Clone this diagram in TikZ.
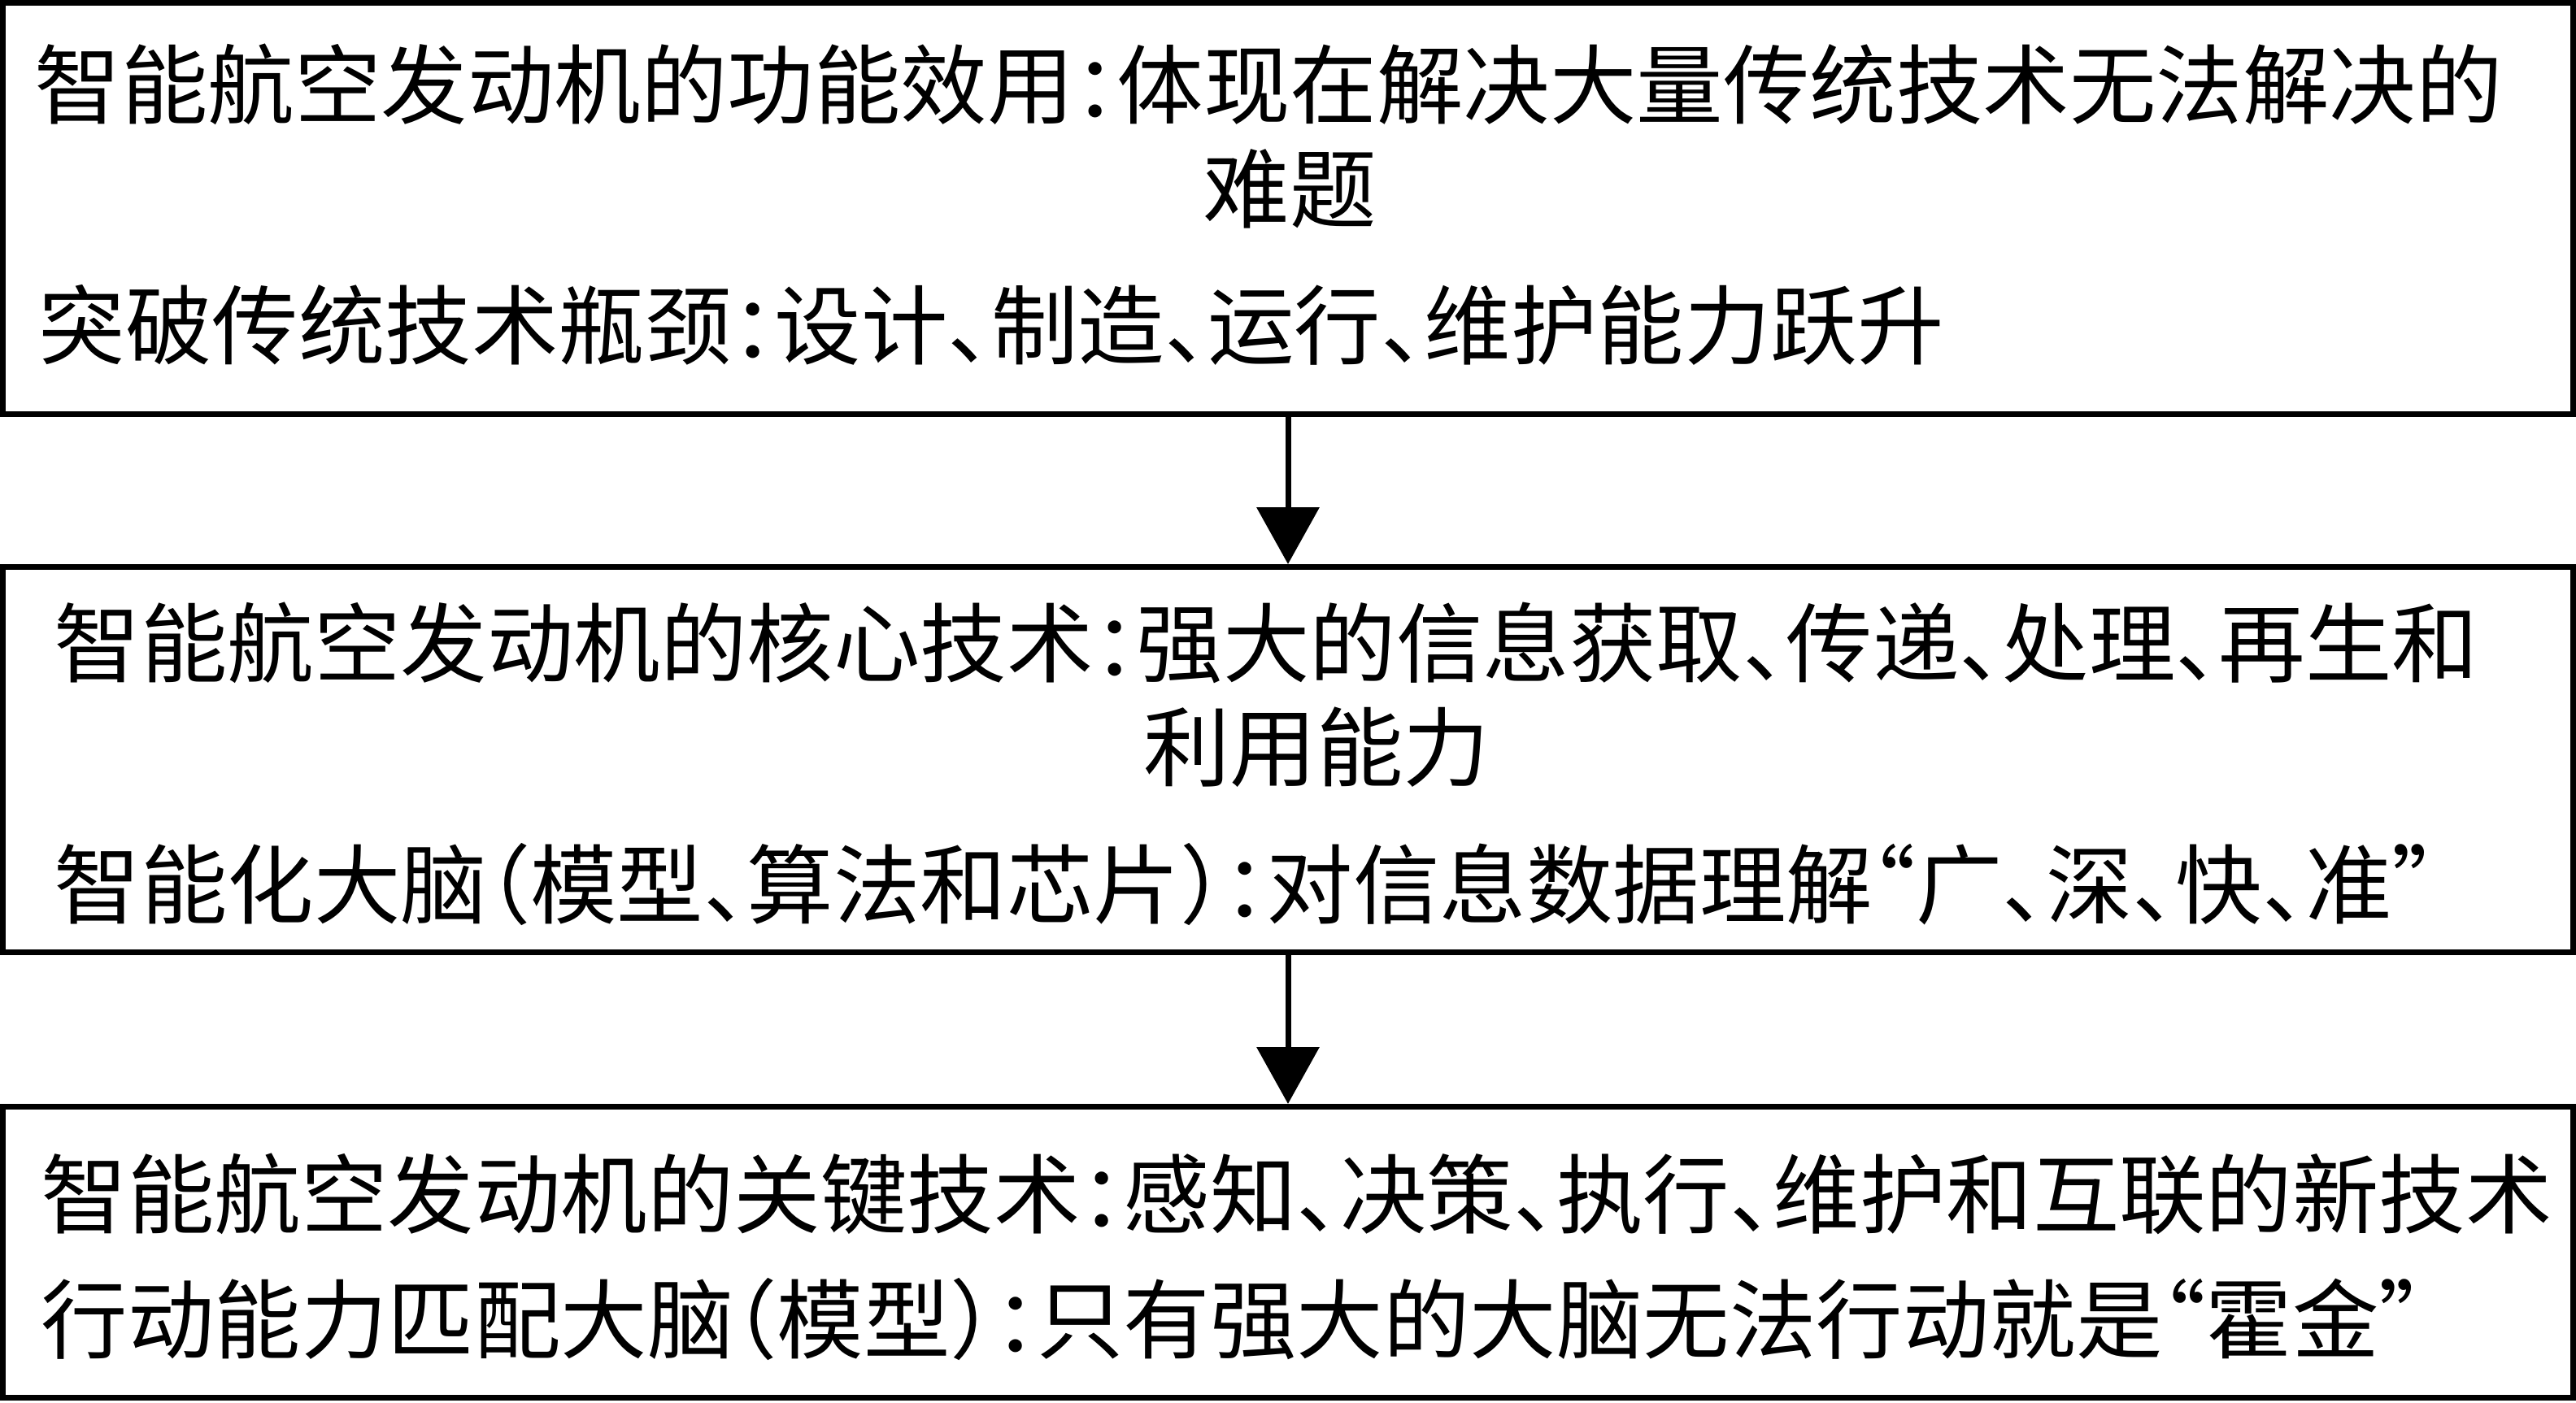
\documentclass[tikz,border=0pt]{standalone}
\usepackage{fontspec}
\setmainfont{Noto Sans CJK SC}[RawFeature=+halt]
\usetikzlibrary{arrows.meta}
\begin{document}
\begin{tikzpicture}[
    box/.style={draw, line width=0.07cm, minimum width=31.61cm, inner sep=0pt},
    txt/.style={inner sep=0pt, anchor=base west, font=\fontsize{30.3pt}{36pt}\selectfont},
    flow/.style={line width=0.07cm, -{Triangle[width=7.6mm,length=7mm]}}]
                \useasboundingbox (0,0) rectangle (31.68,-17.26);
                \node[box, minimum height=5.06cm] (effect) at (15.84,-2.565) {};
                \node[box, minimum height=4.74cm] (core) at (15.84,-9.345) {};
                \node[box, minimum height=3.58cm] (key) at (15.84,-15.405) {};
                \node[txt] (effect1) at (0.42,-1.44) {智能航空发动机的功能效用：体现在解决大量传统技术无法解决的};
                \node[txt, anchor=base] (effect2) at (15.86,-2.72) {难题};
                \node[txt] (effect3) at (0.47,-4.40) {突破传统技术瓶颈：设计、制造、运行、维护能力跃升};
                \node[txt] (core1) at (0.66,-8.31) {智能航空发动机的核心技术：强大的信息获取、传递、处理、再生和};
                \node[txt, anchor=base] (core2) at (16.19,-9.59) {利用能力};
                \node[txt] (core3) at (0.66,-11.28) {智能化大脑（模型、算法和芯片）：对信息数据理解“广、深、快、准”};
                \node[txt] (key1) at (0.50,-15.09) {智能航空发动机的关键技术：感知、决策、执行、维护和互联的新技术};
                \node[txt] (key2) at (0.50,-16.63) {行动能力匹配大脑（模型）：只有强大的大脑无法行动就是“霍金”};
                \draw[flow] (effect.south) -- (core.north);
                \draw[flow] (core.south) -- (key.north);
\end{tikzpicture}
\end{document}
